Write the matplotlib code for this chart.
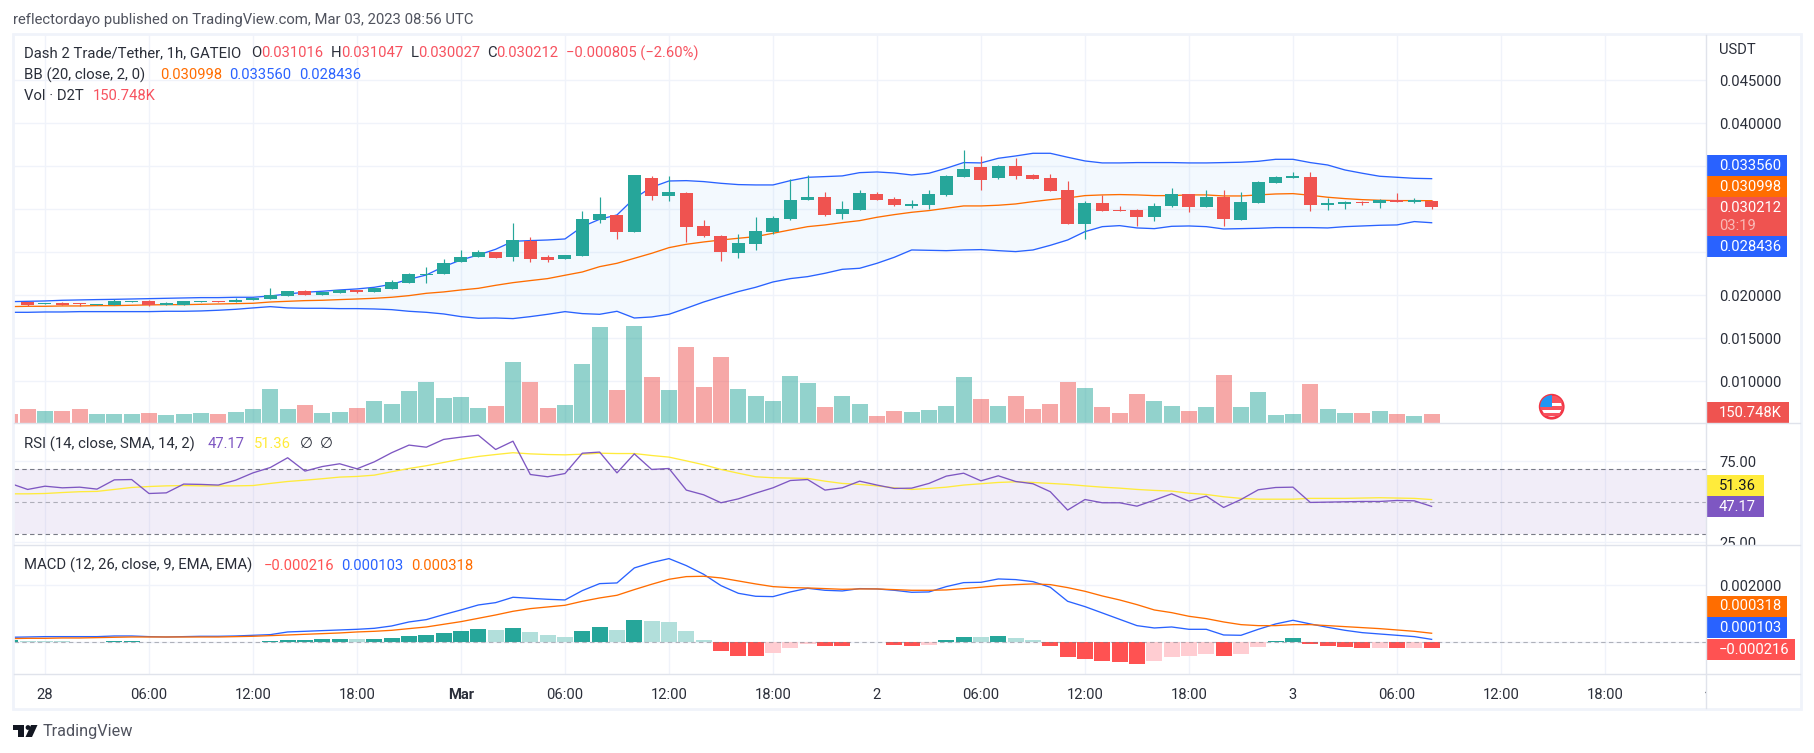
"""Dash 2 Trade/Tether hourly TradingView snapshot: candles, BB, volume, RSI, MACD."""

import matplotlib
matplotlib.use("Agg")
import matplotlib.pyplot as plt
import numpy as np
from matplotlib.patches import Circle, Polygon, Rectangle
from matplotlib.transforms import Bbox

plt.rcParams["font.family"] = ["Roboto", "DejaVu Sans"]

# ── Data ──────────────────────────────────────────────────────────────────────
# prices and MACD values are in millionths of USDT, volume in thousands

hours = np.arange(-2, 81)  # hours since Feb 28 00:00

opens = [
    19150, 19264, 18992, 19109, 19109, 18876, 18876, 19264, 19341, 18876,
    18876, 19225, 19341, 19264, 19457, 19574, 19961, 20504, 20039, 20310,
    20620, 20388, 20736, 21473, 22403, 22481, 23876, 24457, 25039, 24457,
    26279, 24457, 24225, 24574, 28760, 29341, 27364, 33644, 31550, 31899,
    28062, 26899, 24923, 25969, 27364, 28876, 31085, 31434, 29457, 29922,
    31783, 31202, 30388, 30504, 31667, 33760, 34923, 33644, 35039, 33992,
    33644, 32248, 28295, 30736, 29922, 29922, 29109, 30388, 31783, 30271,
    31434, 28760, 30736, 33062, 33644, 33760, 30504, 30620, 30853, 30736,
    31085, 30853, 31016,
]
highs = [
    19200, 19264, 19109, 19264, 19109, 19031, 19535, 19341, 19419, 19225,
    19341, 19303, 19380, 19690, 19768, 20853, 20504, 20620, 20426, 20620,
    20620, 20814, 21783, 22558, 23295, 24186, 25271, 25271, 25039, 28411,
    26783, 24690, 24690, 29806, 31434, 29341, 33992, 33876, 33876, 32016,
    28760, 27016, 27132, 29109, 29225, 33527, 33992, 32016, 30969, 32248,
    32016, 31434, 31085, 32248, 33992, 36899, 36202, 35155, 35969, 34109,
    34109, 33295, 30969, 31667, 30388, 30039, 30736, 32481, 31783, 32248,
    32248, 32016, 33295, 33876, 34341, 34341, 31318, 30969, 30969, 31202,
    31899, 31318, 31047,
]
lows = [
    19050, 18760, 18992, 18876, 18798, 18876, 18876, 19264, 18798, 18876,
    18876, 19225, 19225, 19264, 19457, 19574, 19961, 20078, 20039, 20310,
    20233, 20388, 20736, 21473, 21473, 22481, 23876, 24457, 24341, 23992,
    23876, 23876, 24225, 24574, 28450, 26550, 27364, 31085, 30969, 26202,
    26783, 23992, 24341, 25271, 27132, 28760, 31085, 29225, 28876, 29922,
    31085, 30388, 30155, 30039, 31550, 33760, 32248, 33527, 33527, 33527,
    32132, 28295, 26550, 29806, 29806, 28062, 28643, 30271, 29690, 30271,
    28062, 28760, 30736, 33062, 33644, 29806, 29922, 30039, 30504, 30155,
    30853, 30736, 30027,
]
closes = [
    19080, 18876, 19109, 18876, 18992, 19031, 19341, 19341, 18876, 19109,
    19341, 19303, 19264, 19457, 19729, 20039, 20504, 20078, 20426, 20620,
    20349, 20814, 21550, 22481, 22519, 23721, 24457, 25000, 24341, 26434,
    24225, 24109, 24690, 28876, 29457, 27364, 33992, 31550, 32016, 27946,
    26899, 25039, 26085, 27481, 28992, 31085, 31434, 29341, 30039, 31899,
    31085, 30504, 30620, 31783, 33876, 34690, 33411, 35039, 33876, 33527,
    32132, 28295, 30736, 29806, 29806, 29109, 30388, 31783, 30271, 31434,
    28876, 30853, 33178, 33760, 33876, 30504, 30736, 30853, 30736, 31085,
    30853, 31085, 30212,
]

bb_upper = [
    19260, 19300, 19340, 19420, 19460, 19500, 19530, 19570, 19610, 19650,
    19690, 19730, 19730, 19770, 19770, 19920, 20160, 20350, 20470, 20620,
    20740, 20930, 21280, 21860, 22360, 23330, 24110, 24690, 25350, 26280,
    26360, 26430, 26550, 27980, 28840, 29340, 31280, 32560, 33290, 33330,
    33220, 33020, 32870, 32830, 32830, 33330, 33720, 33800, 33880, 34260,
    34340, 34220, 33990, 34190, 34770, 35430, 35390, 35930, 36200, 36510,
    36510, 36050, 35620, 35390, 35390, 35430, 35430, 35430, 35390, 35390,
    35430, 35470, 35580, 35810, 35810, 35430, 35150, 34570, 34190, 33840,
    33720, 33600, 33560,
]
bb_lower = [
    18020, 18020, 18060, 18060, 18100, 18100, 18100, 18100, 18100, 18140,
    18140, 18180, 18260, 18370, 18530, 18680, 18530, 18490, 18490, 18450,
    18450, 18410, 18330, 18140, 18020, 17830, 17520, 17330, 17360, 17290,
    17520, 17790, 18100, 17870, 17790, 18140, 17360, 17480, 17790, 18490,
    19220, 19840, 20430, 20930, 21550, 21940, 22170, 22560, 23020, 23140,
    23720, 24420, 25270, 25230, 25190, 25270, 25310, 25190, 25080, 25270,
    25810, 26430, 27400, 27980, 28100, 27830, 27750, 28020, 28060, 27980,
    27710, 27750, 27790, 27870, 27870, 27870, 27830, 27980, 28060, 28140,
    28180, 28570, 28436,
]
bb_basis = [
    18680, 18720, 18720, 18760, 18760, 18800, 18800, 18840, 18880, 18910,
    18910, 18950, 18990, 19030, 19070, 19220, 19300, 19380, 19420, 19500,
    19570, 19650, 19770, 19960, 20230, 20390, 20620, 20810, 21160, 21470,
    21710, 21940, 22330, 22710, 23330, 23720, 24300, 24880, 25540, 25930,
    26200, 26430, 26630, 26820, 27210, 27600, 27980, 28180, 28450, 28680,
    29070, 29380, 29650, 29850, 30120, 30390, 30390, 30470, 30620, 30890,
    31120, 31320, 31590, 31670, 31710, 31670, 31590, 31590, 31670, 31670,
    31550, 31550, 31670, 31780, 31820, 31630, 31400, 31240, 31120, 31050,
    31010, 31010, 30998,
]

volume = [
    157, 244, 209, 209, 244, 157, 157, 157, 174, 139,
    157, 174, 157, 191, 244, 592, 244, 313, 174, 191,
    261, 383, 331, 557, 713, 435, 452, 261, 296, 1061,
    713, 261, 313, 1027, 1670, 574, 1682, 795, 568, 1317,
    621, 1143, 586, 464, 377, 812, 690, 273, 464, 325,
    116, 203, 186, 220, 290, 795, 412, 290, 464, 238,
    325, 708, 603, 273, 168, 499, 377, 290, 203, 273,
    829, 273, 534, 133, 151, 673, 238, 168, 168, 203,
    151, 116, 150.748,
]

rsi = [
    61.3, 57.6, 59.6, 58.6, 59.0, 57.8, 63.5, 63.7, 55.1, 55.5,
    60.9, 60.7, 60.3, 63.3, 67.8, 71.1, 77.1, 68.9, 71.7, 73.4,
    70.3, 74.6, 80.2, 84.9, 83.6, 88.4, 89.8, 91.0, 82.2, 87.3,
    66.8, 65.4, 67.4, 79.9, 80.6, 67.8, 79.5, 69.9, 70.5, 57.2,
    54.3, 49.4, 51.8, 55.3, 58.6, 63.1, 63.7, 57.2, 58.6, 62.7,
    60.3, 58.2, 58.4, 61.3, 65.8, 67.6, 62.9, 66.0, 62.5, 61.1,
    56.2, 44.9, 51.4, 49.4, 49.4, 47.3, 51.0, 54.9, 50.4, 53.5,
    46.5, 51.4, 57.4, 58.8, 59.0, 49.6, 49.8, 50.0, 50.2, 50.2,
    50.8, 50.6, 47.17,
]
rsi_ma = [
    54.9, 54.9, 55.1, 55.7, 56.2, 56.4, 57.6, 58.8, 59.4, 59.8,
    60.0, 59.8, 59.8, 59.8, 60.0, 61.3, 62.5, 63.3, 64.2, 65.2,
    65.6, 66.4, 68.5, 70.5, 72.2, 74.2, 76.3, 77.9, 79.1, 80.2,
    79.5, 79.1, 78.9, 79.3, 79.9, 79.7, 79.7, 78.5, 77.5, 75.2,
    72.8, 69.9, 67.6, 65.4, 64.8, 64.6, 64.4, 62.7, 61.3, 60.7,
    59.8, 58.6, 57.6, 58.2, 59.0, 60.3, 61.1, 61.9, 62.3, 61.9,
    61.3, 60.7, 59.8, 59.0, 58.4, 57.6, 57.0, 56.6, 55.3, 54.5,
    53.1, 52.1, 51.6, 51.6, 51.6, 52.1, 52.1, 52.1, 52.3, 52.5,
    52.3, 52.1, 51.36,
]

macd_line = [
    176, 187, 199, 199, 199, 199, 222, 222, 199, 187,
    199, 211, 211, 222, 246, 269, 363, 386, 410, 433,
    456, 491, 573, 714, 796, 971, 1135, 1310, 1392, 1580,
    1544, 1509, 1486, 1814, 2059, 2083, 2609, 2796, 2937, 2691,
    2387, 1989, 1720, 1615, 1603, 1767, 1895, 1825, 1802, 1884,
    1872, 1825, 1755, 1767, 1954, 2094, 2106, 2223, 2200, 2129,
    1931, 1439, 1252, 1030, 807, 585, 503, 538, 456, 456,
    257, 246, 456, 644, 772, 644, 527, 421, 339, 292,
    246, 199, 103,
]
macd_signal = [
    129, 140, 140, 152, 152, 164, 176, 187, 187, 187,
    187, 187, 187, 199, 211, 234, 257, 281, 304, 328,
    363, 386, 421, 480, 538, 632, 725, 842, 959, 1088,
    1182, 1240, 1299, 1439, 1556, 1650, 1849, 2036, 2211, 2305,
    2317, 2258, 2153, 2048, 1954, 1919, 1907, 1884, 1860, 1872,
    1872, 1849, 1825, 1825, 1837, 1884, 1931, 1989, 2024, 2048,
    2024, 1919, 1790, 1626, 1486, 1322, 1135, 1041, 913, 831,
    714, 620, 585, 585, 620, 620, 585, 550, 515, 480,
    433, 386, 318,
]
macd_hist = [
    82, 47, 35, 30, 25, 12, 47, 50, 12, 10,
    12, 14, 16, 18, 20, 47, 82, 85, 117, 120,
    118, 122, 152, 222, 257, 328, 398, 468, 433, 503,
    362, 257, 187, 398, 538, 433, 784, 749, 714, 398,
    82, -304, -480, -482, -374, -199, -58, -129, -131, 25,
    12, -94, -129, -94, 82, 187, 185, 222, 152, 82,
    -129, -515, -585, -655, -690, -760, -655, -515, -480, -410,
    -480, -410, -164, 47, 152, -50, -115, -170, -195, -190,
    -195, -190, -216,
]

time_ticks = np.arange(0, 91, 6)
time_labels = ["28", "06:00", "12:00", "18:00", "Mar", "06:00", "12:00", "18:00",
               "2", "06:00", "12:00", "18:00", "3", "06:00", "12:00", "18:00"]
price_ticks = [0.010, 0.015, 0.020, 0.025, 0.030, 0.035, 0.040, 0.045]
price_labels = ["0.010000", "0.015000", "0.020000", "", "", "", "0.040000", "0.045000"]
rsi_ticks = [25, 75]
macd_ticks = [0, 2000]
macd_labels = ["", "0.002000"]

# ── Layout and colours ────────────────────────────────────────────────────────

WIDTH, HEIGHT = 1814, 753
LEFT, AXIS_X, FRAME_R = 14, 1706, 1800

UP, DOWN = "#26a69a", "#ef5350"
BLUE, ORANGE = "#2962ff", "#ff6d00"
PURPLE, YELLOW = "#7e57c2", "#ffeb3b"
GRID, BORDER = "#f0f3fa", "#e0e3eb"
TEXT = "#2a2e39"
FONT = 10.6         # numbers
LABEL_FONT = 10.75  # words


def add_pane(top, bottom):
    ax = fig.add_axes([LEFT / WIDTH, 1 - bottom / HEIGHT,
                       (AXIS_X - LEFT) / WIDTH, (bottom - top) / HEIGHT])
    ax.set_xlim(-1.788, 95.83)
    ax.set_xticks(time_ticks)
    ax.grid(True, color=GRID, lw=1.0)
    ax.set_axisbelow(True)
    ax.yaxis.tick_right()
    ax.tick_params(axis="y", length=0, pad=9.4, labelsize=FONT, labelcolor=TEXT)
    ax.tick_params(axis="x", length=0, labelbottom=False)
    for spine in ax.spines.values():
        spine.set_visible(False)
    return ax


fig = plt.figure(figsize=(WIDTH / 100, HEIGHT / 100), dpi=100, facecolor="white")

# ── Price pane ────────────────────────────────────────────────────────────────

ax_price = add_pane(34, 423)
ax_price.set_ylim(0.005151, 0.05038)
ax_price.set_yticks(price_ticks)
ax_price.set_yticklabels(price_labels)

o, h, l, c = (np.array(a) / 1e6 for a in (opens, highs, lows, closes))
candle_colors = [UP if cl >= op else DOWN for op, cl in zip(o, c)]

ax_price.fill_between(hours, np.array(bb_lower) / 1e6, np.array(bb_upper) / 1e6,
                      color="#2196f3", alpha=0.05, lw=0)
ax_price.plot(hours, np.array(bb_upper) / 1e6, color=BLUE, lw=0.95)
ax_price.plot(hours, np.array(bb_lower) / 1e6, color=BLUE, lw=0.95)
ax_price.plot(hours, np.array(bb_basis) / 1e6, color=ORANGE, lw=0.95)
ax_price.vlines(hours, l, h, colors=candle_colors, lw=0.85, zorder=3)
ax_price.bar(hours, np.abs(c - o), bottom=np.minimum(o, c), width=0.75,
             color=candle_colors, zorder=4)

ax_vol = add_pane(34, 423)
ax_vol.patch.set_visible(False)
ax_vol.grid(False)
ax_vol.set_yticks([])
ax_vol.set_ylim(0, 389 * 17.4)
ax_vol.bar(hours, volume, width=0.93, color=candle_colors, alpha=0.5, lw=0)

# ── RSI pane ──────────────────────────────────────────────────────────────────

ax_rsi = add_pane(423, 545)
ax_rsi.set_ylim(23.4, 98.5)
ax_rsi.set_yticks(rsi_ticks)
ax_rsi.set_yticklabels([f"{t:.2f}" for t in rsi_ticks])
ax_rsi.axhspan(30, 70, color=PURPLE, alpha=0.1, lw=0)
ax_rsi.axhline(70, color="#787b86", lw=0.8, dashes=(4, 3))
ax_rsi.axhline(30, color="#787b86", lw=0.8, dashes=(4, 3))
ax_rsi.axhline(50, color="#787b86", lw=0.8, alpha=0.55, dashes=(4, 3))
ax_rsi.plot(hours, rsi_ma, color=YELLOW, lw=0.95)
ax_rsi.plot(hours, rsi, color=PURPLE, lw=0.95)
for label in ax_rsi.get_yticklabels():
    label.set_clip_box(Bbox.from_extents(AXIS_X, HEIGHT - 545, FRAME_R, HEIGHT - 423))
    label.set_clip_on(True)

# ── MACD pane ─────────────────────────────────────────────────────────────────

ax_macd = add_pane(545, 674)
ax_macd.set_ylim(-1112, 3414)
ax_macd.set_yticks(macd_ticks)
ax_macd.set_yticklabels(macd_labels)

hist_colors = []
for i, value in enumerate(macd_hist):
    rising = i == 0 or value >= macd_hist[i - 1]
    if value >= 0:
        hist_colors.append("#26a69a" if rising else "#b2dfdb")
    else:
        hist_colors.append("#ffcdd2" if rising else "#ff5252")

ax_macd.axhline(0, color="#787b86", lw=0.8, alpha=0.55, dashes=(4, 3))
ax_macd.bar(hours, macd_hist, width=0.93, color=hist_colors, lw=0)
ax_macd.plot(hours, macd_line, color=BLUE, lw=0.95)
ax_macd.plot(hours, macd_signal, color=ORANGE, lw=0.95)

ax_macd.tick_params(axis="x", labelbottom=True, labelsize=FONT, labelcolor=TEXT, pad=10)
ax_macd.set_xticklabels(time_labels)
ax_macd.get_xticklabels()[4].set_fontweight("bold")

# ── Frame, tags, legends ──────────────────────────────────────────────────────

ov = fig.add_axes([0, 0, 1, 1], zorder=10)
ov.set_xlim(0, WIDTH)
ov.set_ylim(HEIGHT, 0)
ov.axis("off")


def put(x, y, text, color=TEXT, size=FONT, **kwargs):
    return ov.text(x, y, text, color=color, fontsize=size, va="center", **kwargs)


def legend_row(y, items):
    for x, text, color in items:
        put(x, y, text, color, LABEL_FONT if color == TEXT else FONT)


def tag(top, bottom, right, text, face, color="white"):
    ov.add_patch(Rectangle((AXIS_X, top), right - AXIS_X, bottom - top, color=face, lw=0))
    put(1719, top + 10.5, text, color)


ov.add_patch(Rectangle((13, 34), 1788, 675, fill=False, ec=GRID, lw=2))
ov.plot([AXIS_X, AXIS_X], [35, 708], color=BORDER, lw=1)
for y in (423, 545, 674):
    ov.plot([14, FRAME_R], [y, y], color=BORDER, lw=1)

put(13, 20, "reflectordayo published on TradingView.com, Mar 03, 2023 08:56 UTC",
    "#50535e", LABEL_FONT)

RED_TEXT = "#f7525f"
legend_row(53.3, [
    (23.7, "Dash 2 Trade/Tether, 1h, GATEIO", TEXT),
    (251, "O", TEXT), (261.6, "0.031016", RED_TEXT),
    (331, "H", TEXT), (340.7, "0.031047", RED_TEXT),
    (410.7, "L", TEXT), (418, "0.030027", RED_TEXT),
    (487, "C", TEXT), (496.4, "0.030212", RED_TEXT),
    (566.4, "\u22120.000805 (\u22122.60%)", RED_TEXT),
])
legend_row(75, [
    (23.7, "BB (20, close, 2, 0)", TEXT),
    (160, "0.030998", ORANGE), (229.6, "0.033560", BLUE), (299, "0.028436", BLUE),
])
legend_row(96, [(23.7, "Vol \u00b7 D2T", TEXT), (93.3, "150.748K", RED_TEXT)])
legend_row(444, [
    (23.7, "RSI (14, close, SMA, 14, 2)", TEXT),
    (208, "47.17", PURPLE), (253.8, "51.36", YELLOW),
    (300, "\u2205", TEXT), (319.4, "\u2205", TEXT),
])
legend_row(565.7, [
    (23.7, "MACD (12, 26, close, 9, EMA, EMA)", TEXT),
    (264, "\u22120.000216", "#ff5252"), (341.5, "0.000103", BLUE), (411, "0.000318", ORANGE),
])

put(1719, 50, "USDT")

tag(155, 176, 1787, "0.033560", BLUE)
tag(176, 197, 1787, "0.030998", ORANGE)
tag(197, 236, 1787, "0.030212", DOWN)
put(1719, 225.7, "03:19", "#f9b9b7")
tag(236, 256.7, 1787, "0.028436", BLUE)
tag(402, 422.7, 1789, "150.748K", DOWN)
tag(475, 496, 1764, "51.36", YELLOW, "#131722")
tag(496, 517, 1764, "47.17", PURPLE)
tag(596, 617, 1787, "0.000318", ORANGE)
tag(617, 638, 1787, "0.000103", BLUE)
tag(639, 660, 1795, "\u22120.000216", "#ff5252")

# next day's label is cut by the price axis
next_day = put(1708.7, 691.7, "4", ha="center")
next_day.set_clip_box(Bbox.from_extents(0, 0, AXIS_X, HEIGHT))
next_day.set_clip_on(True)

# events flag
flag = Circle((1551.7, 406.7), 11.5, fc="white", ec="#f23645", lw=2, zorder=5)
ov.add_patch(flag)
for top, height, color in ((396, 7, "#f7525f"), (406, 4, "#f7525f"), (412.5, 3.5, "#f7525f")):
    stripe = Rectangle((1540, top), 24, height, color=color, lw=0, zorder=6)
    ov.add_patch(stripe)
    stripe.set_clip_path(flag)
canton = Rectangle((1540, 395), 11.5, 12, color="#2196f3", lw=0, zorder=7)
ov.add_patch(canton)
canton.set_clip_path(flag)

# logo
ov.add_patch(Polygon([(13, 725), (24, 725), (24, 737), (18, 737), (18, 730), (13, 730)],
                     color="#131722", lw=0))
ov.add_patch(Circle((28, 727.5), 2.4, color="#131722", lw=0))
ov.add_patch(Polygon([(37.5, 725), (32, 737), (25.5, 737), (31, 725)], color="#131722", lw=0))
ov.text(42.3, 731.7, "TradingView", color="#50535e", fontsize=11.7, va="center")

fig.savefig("out.png", dpi=100)
